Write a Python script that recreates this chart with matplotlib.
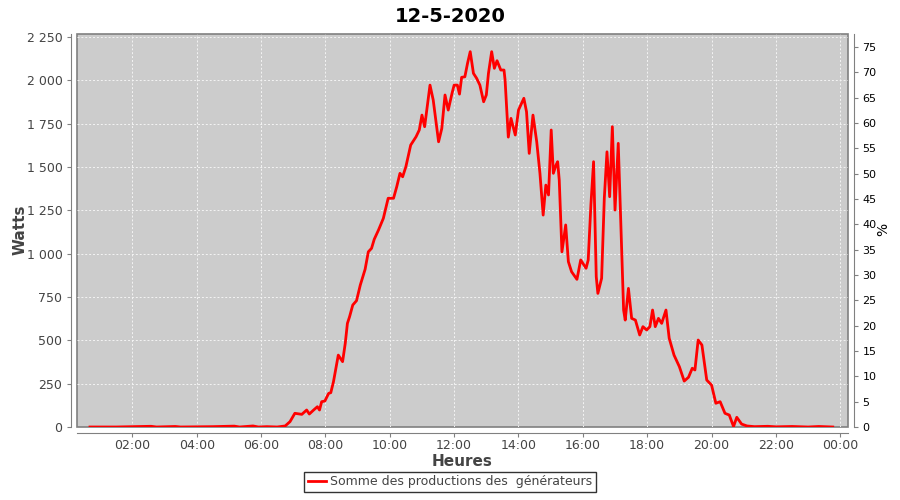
import matplotlib
matplotlib.use("Agg")
import matplotlib.pyplot as plt
from matplotlib.ticker import FuncFormatter

TITLE = "12-5-2020"
SERIES_LABEL = "Somme des productions des  générateurs"

# time of day (HH:MM) and total production in watts
times = [
    "00:41", "01:30", "02:35", "02:45", "03:20", "03:30", "04:30", "05:10",
    "05:20", "05:45", "05:55", "06:11", "06:30", "06:45", "06:54", "07:03",
    "07:16", "07:25", "07:30", "07:38", "07:45", "07:49", "07:53", "07:59",
    "08:06", "08:10", "08:15", "08:24", "08:32", "08:37", "08:41", "08:45",
    "08:51", "08:58", "09:05", "09:14", "09:20", "09:26", "09:31", "09:39",
    "09:48", "09:51", "09:57", "10:07", "10:13", "10:19", "10:24", "10:30",
    "10:39", "10:49", "10:55", "11:00", "11:05", "11:09", "11:15", "11:21",
    "11:31", "11:37", "11:43", "11:49", "11:56", "12:00", "12:06", "12:10",
    "12:14", "12:20", "12:25", "12:30", "12:36", "12:42", "12:48", "12:55",
    "13:00", "13:04", "13:10", "13:15", "13:20", "13:27", "13:33", "13:35",
    "13:41", "13:46", "13:54", "14:00", "14:10", "14:15", "14:20", "14:27",
    "14:34", "14:40", "14:46", "14:51", "14:56", "15:01", "15:05", "15:10",
    "15:13", "15:16", "15:21", "15:28", "15:33", "15:39", "15:49", "15:56",
    "16:06", "16:10", "16:15", "16:20", "16:25", "16:28", "16:35", "16:40",
    "16:45", "16:50", "16:55", "17:00", "17:06", "17:10", "17:16", "17:19",
    "17:25", "17:31", "17:38", "17:46", "17:52", "17:59", "18:05", "18:10",
    "18:15", "18:21", "18:27", "18:35", "18:41", "18:50", "19:00", "19:09",
    "19:17", "19:24", "19:29", "19:35", "19:42", "19:51", "20:00", "20:08",
    "20:16", "20:25", "20:33", "20:41", "20:47", "20:56", "21:06", "21:20",
    "21:45", "22:00", "22:30", "23:00", "23:20", "23:46",
]
watts = [
    0, 0, 4, 0, 3, 0, 2, 5,
    0, 6, 0, 2, 0, 6, 31, 79,
    73, 98, 75, 98, 117, 98, 146, 150,
    194, 198, 261, 415, 377, 483, 598, 636,
    704, 729, 819, 910, 1011, 1031, 1083, 1137,
    1204, 1242, 1320, 1320, 1387, 1464, 1444, 1502,
    1627, 1675, 1714, 1800, 1733, 1829, 1973, 1887,
    1646, 1723, 1916, 1829, 1925, 1973, 1973, 1921,
    2018, 2021, 2099, 2166, 2041, 2012, 1973, 1877,
    1916, 2041, 2166, 2070, 2114, 2060, 2060, 2002,
    1673, 1781, 1685, 1829, 1897, 1819, 1579, 1800,
    1646, 1464, 1223, 1396, 1339, 1714, 1464, 1512,
    1531, 1425, 1011, 1166, 954, 896, 852, 964,
    916, 964, 1281, 1531, 867, 771, 858, 1320,
    1588, 1329, 1733, 1252, 1637, 1252, 675, 617,
    800, 627, 617, 531, 579, 560, 579, 675,
    579, 627, 598, 675, 512, 415, 348, 265,
    287, 339, 329, 502, 473, 271, 242, 137,
    146, 79, 69, 3, 56, 17, 6, 2,
    4, 1, 3, 0, 3, 0,
]

x_ticks = [2, 4, 6, 8, 10, 12, 14, 16, 18, 20, 22, 24]
x_tick_labels = ["02:00", "04:00", "06:00", "08:00", "10:00", "12:00",
                 "14:00", "16:00", "18:00", "20:00", "22:00", "00:00"]
watt_ticks = list(range(0, 2251, 250))
pct_ticks = list(range(0, 76, 5))

hours = [int(t[:2]) + int(t[3:]) / 60 for t in times]

TEXT = "#444444"
FRAME = "#808080"

fig = plt.figure(figsize=(9, 5), dpi=100)
ax = fig.add_axes([77 / 900, 1 - 427 / 500, (848 - 77) / 900, (427 - 34) / 500])
ax.set_facecolor("#cccccc")
ax.patch.set_edgecolor(FRAME)
ax.patch.set_linewidth(1.2)

ax.plot(hours, watts, color="#ff0000", lw=2, label=SERIES_LABEL, zorder=3)

ax.set_xlim(0.28, 24.24)
ax.set_ylim(0, 2268)
ax.set_xticks(x_ticks)
ax.set_xticklabels(x_tick_labels)
ax.set_yticks(watt_ticks)
ax.yaxis.set_major_formatter(FuncFormatter(lambda v, p: f"{int(v):,}".replace(",", " ")))
ax.grid(True, color="#f4f4f4", ls=(0, (2, 2)), lw=0.7)
ax.set_axisbelow(True)

for side in ["top", "right"]:
    ax.spines[side].set_visible(False)
for side in ["left", "bottom"]:
    ax.spines[side].set_position(("outward", 4))
    ax.spines[side].set_color(FRAME)
ax.tick_params(colors=FRAME, labelcolor=TEXT, labelsize=9, length=3, width=0.8)
ax.tick_params(axis="x", pad=1.5)

ax2 = ax.twinx()
ax2.set_ylim(0, 77.6)
ax2.set_yticks(pct_ticks)
for side in ["top", "left", "bottom"]:
    ax2.spines[side].set_visible(False)
ax2.spines["right"].set_position(("outward", 4))
ax2.spines["right"].set_color(FRAME)
ax2.tick_params(colors=FRAME, labelcolor="black", labelsize=8, length=3, width=0.8)

# axis titles placed where the reference puts them
fig.text(20 / 900, 1 - 230 / 500, "Watts", rotation=90, ha="center", va="center",
         fontsize=11, fontweight="bold", color=TEXT)
fig.text(462 / 900, 1 - 461 / 500, "Heures", ha="center", va="center",
         fontsize=11, fontweight="bold", color=TEXT)
fig.text(883 / 900, 1 - 229 / 500, "%", rotation=90, ha="center", va="center",
         fontsize=10, color="black")

fig.suptitle(TITLE, x=0.5, y=0.985, fontsize=14, fontweight="bold", color="black")

leg = fig.legend(loc="lower center", bbox_to_anchor=(0.5, 0.003), frameon=True,
                 fancybox=False, edgecolor="black", fontsize=9, handlelength=1.5,
                 borderpad=0.3, handletextpad=0.3)
leg.get_frame().set_linewidth(1)
for txt in leg.get_texts():
    txt.set_color(TEXT)

fig.savefig("out.png", dpi=100)
